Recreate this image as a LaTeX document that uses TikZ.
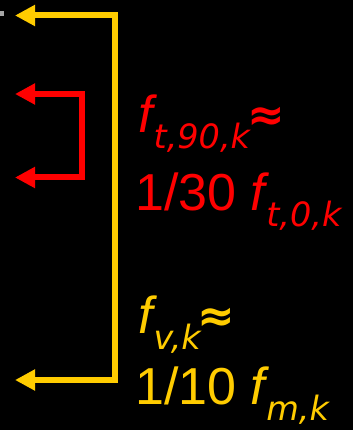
\documentclass[tikz,border=0pt]{standalone}
\usepackage{fontspec}
\usetikzlibrary{arrows.meta}
\newfontfamily\mainf{Liberation Sans}
\newfontfamily\subf{DejaVu Sans}
\definecolor{yel}{HTML}{FFCC00}
\definecolor{rd}{HTML}{FF0000}
\newcommand{\sbs}[1]{\raisebox{-16pt}{\subf\itshape\fontsize{33.5}{33.5}\selectfont #1}}
\newcommand{\apx}{\raisebox{2pt}{\subf\bfseries\fontsize{45}{45}\selectfont ≈}}
\begin{document}
\begin{tikzpicture}[x=1pt,y=-1pt,
  brk/.style={line width=6pt,line join=miter,{Triangle[length=20pt,width=20pt]}-{Triangle[length=20pt,width=20pt]}},
  lbl/.style={anchor=base west,inner sep=0pt,font=\mainf\fontsize{52}{52}\selectfont}]
\fill[white] (0,0) rectangle (361,430);
\fill[black] (0,0) rectangle (353,430);
\useasboundingbox (0,0) rectangle (361,430);
\fill[gray!70] (0,11.5) rectangle (4,16);
% yellow bracket
\coordinate (yt) at (15,15.5);
\coordinate (ytr) at (115,15.5);
\coordinate (ybr) at (115,380);
\coordinate (yb) at (15,380);
\draw[brk,yel] (yt) -- (ytr) -- (ybr) -- (yb);
% red bracket
\coordinate (rt) at (15,94);
\coordinate (rtr) at (81.5,94);
\coordinate (rbr) at (81.5,177.5);
\coordinate (rb) at (15,177.5);
\draw[brk,rd] (rt) -- (rtr) -- (rbr) -- (rb);
% labels
\node[lbl,text=rd] (r1) at (138,133) {{\itshape f}\kern1pt\sbs{t,90,k}\kern-3pt\apx};
\node[lbl,text=rd] (r2) at (135,210) {1/30 {\itshape f}\kern1pt\sbs{t,0,k}};
\node[lbl,text=yel] (y1) at (138,333) {{\itshape f}\kern1pt\sbs{v,k}\kern-3pt\apx};
\node[lbl,text=yel] (y2) at (135,404) {1/10 {\itshape f}\kern1pt\sbs{m,k}};
\end{tikzpicture}
\end{document}
